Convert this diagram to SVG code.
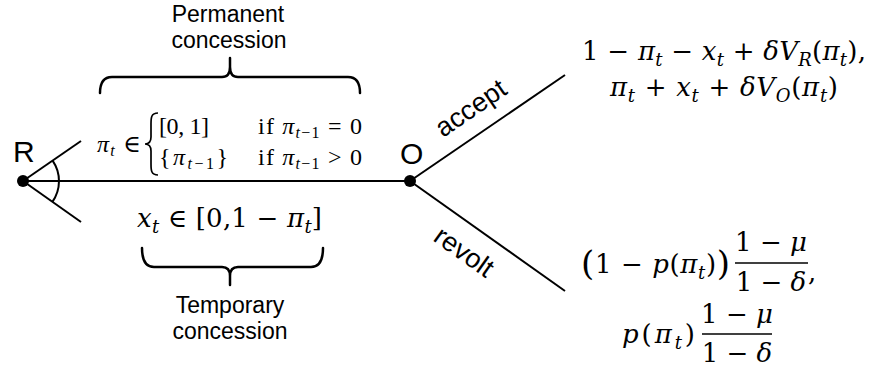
<svg xmlns="http://www.w3.org/2000/svg" width="872" height="370" viewBox="0 0 872 370">
<style>
.lbl{font-family:"Liberation Sans",Arial,sans-serif;fill:#000}
.big{font-size:30px}
.cap{font-size:23px;text-anchor:middle}
.edge{font-size:27px}
.m{font-family:"DejaVu Serif","Liberation Serif",serif;font-size:26px;fill:#000}
.cm{font-family:"Liberation Serif","DejaVu Serif",serif;font-size:24px;fill:#000}
.i{font-style:italic}
.s{font-size:18px}
.cs{font-size:16px}
.mid{text-anchor:middle}
.ln{stroke:#000;stroke-width:2;fill:none}
.bar{stroke:#000;stroke-width:1.5;fill:none}
.br{stroke:#000;stroke-width:2.5;fill:none;stroke-linejoin:round;stroke-linecap:round}
.pb{stroke:#000;stroke-width:1.7;fill:none}
</style>
<rect width="872" height="370" fill="#fff"/>

<g id="connectors" class="ln">
  <line x1="23" y1="181" x2="410" y2="181"/>
  <line x1="23" y1="181" x2="81" y2="141"/>
  <line x1="23" y1="181" x2="81" y2="222"/>
  <path d="M52.6,160.6 A36,36 0 0 1 52.4,201.8"/>
  <line x1="410" y1="181" x2="565" y2="75"/>
  <line x1="410" y1="181" x2="565" y2="291"/>
</g>

<g id="node-R">
  <circle cx="23" cy="181" r="6" fill="#000"/>
  <text class="lbl big" x="13" y="162">R</text>
</g>

<g id="node-O">
  <circle cx="410" cy="181" r="6" fill="#000"/>
  <text class="lbl big" x="400" y="164">O</text>
</g>

<g id="edge-labels">
  <text class="lbl edge" transform="translate(443,138) rotate(-34.4)">accept</text>
  <text class="lbl edge" transform="translate(432,240) rotate(35.4)">revolt</text>
</g>

<g id="permanent">
  <text class="lbl cap" x="228" y="22">Permanent</text>
  <text class="lbl cap" x="229" y="48">concession</text>
  <path class="br" d="M100,93 Q100,77 112,77 L222,77 Q230,77 230,67 L230,58 M230,67 Q230,77 238,77 L348,77 Q360,77 360,93"/>
  <text class="cm" x="97" y="152" textLength="44" lengthAdjust="spacing"><tspan class="i">π</tspan><tspan class="cs i" dy="4">t</tspan><tspan dy="-4"> ∈</tspan></text>
  <path class="pb" d="M158,113 C151,113 151,118 151,124 L151,137 C151,142 149,144 145,144 C149,144 151,146 151,151 L151,164 C151,170 151,175 158,175"/>
  <text class="cm" x="159" y="134" textLength="50" lengthAdjust="spacing">[0, 1]</text>
  <text class="cm" x="258" y="134" textLength="104" lengthAdjust="spacing">if <tspan class="i">π</tspan><tspan class="cs" dy="4"><tspan class="i">t</tspan>−1</tspan><tspan dy="-4"> = 0</tspan></text>
  <text class="cm" x="159" y="165" textLength="69" lengthAdjust="spacing">{<tspan class="i">π</tspan><tspan class="cs" dy="4"><tspan class="i">t</tspan>−1</tspan><tspan dy="-4">}</tspan></text>
  <text class="cm" x="258" y="165" textLength="104" lengthAdjust="spacing">if <tspan class="i">π</tspan><tspan class="cs" dy="4"><tspan class="i">t</tspan>−1</tspan><tspan dy="-4"> &gt; 0</tspan></text>
</g>

<g id="temporary">
  <text class="m" x="137" y="227" textLength="185" lengthAdjust="spacing"><tspan class="i">x</tspan><tspan class="s i" dy="6">t</tspan><tspan dy="-6"> ∈ [0,1 − </tspan><tspan class="i">π</tspan><tspan class="s i" dy="6">t</tspan><tspan dy="-6">]</tspan></text>
  <path class="br" d="M142,248 Q142,267 154,267 L222,267 Q230,267 230,276 L230,285 M230,276 Q230,267 238,267 L311,267 Q323,267 323,248"/>
  <text class="lbl cap" x="230" y="313">Temporary</text>
  <text class="lbl cap" x="230" y="339">concession</text>
</g>

<g id="payoff-accept">
  <text class="m" x="582" y="60" textLength="284" lengthAdjust="spacing">1 − <tspan class="i">π</tspan><tspan class="s i" dy="6">t</tspan><tspan dy="-6"> − </tspan><tspan class="i">x</tspan><tspan class="s i" dy="6">t</tspan><tspan dy="-6"> + </tspan><tspan class="i">δV</tspan><tspan class="s i" dy="6">R</tspan><tspan dy="-6">(</tspan><tspan class="i">π</tspan><tspan class="s i" dy="6">t</tspan><tspan dy="-6">),</tspan></text>
  <text class="m" x="610" y="96" textLength="228" lengthAdjust="spacing"><tspan class="i">π</tspan><tspan class="s i" dy="6">t</tspan><tspan dy="-6"> + </tspan><tspan class="i">x</tspan><tspan class="s i" dy="6">t</tspan><tspan dy="-6"> + </tspan><tspan class="i">δV</tspan><tspan class="s i" dy="6">O</tspan><tspan dy="-6">(</tspan><tspan class="i">π</tspan><tspan class="s i" dy="6">t</tspan><tspan dy="-6">)</tspan></text>
</g>

<g id="payoff-revolt">
  <text class="m" x="581" y="273" textLength="149" lengthAdjust="spacing"><tspan font-size="34" dy="2">(</tspan><tspan dy="-2">1 − </tspan><tspan class="i">p</tspan>(<tspan class="i">π</tspan><tspan class="s i" dy="6">t</tspan><tspan dy="-6">)</tspan><tspan font-size="34" dy="2">)</tspan></text>
  <text class="m mid" x="771" y="251">1 − <tspan class="i">μ</tspan></text>
  <line class="bar" x1="735" y1="263" x2="808" y2="263"/>
  <text class="m mid" x="771" y="291">1 − <tspan class="i">δ</tspan></text>
  <text class="m" x="808" y="281">,</text>
  <text class="m" x="622" y="343" textLength="73" lengthAdjust="spacing"><tspan class="i">p</tspan>(<tspan class="i">π</tspan><tspan class="s i" dy="6">t</tspan><tspan dy="-6">)</tspan></text>
  <text class="m mid" x="737" y="323">1 − <tspan class="i">μ</tspan></text>
  <line class="bar" x1="702" y1="334" x2="772" y2="334"/>
  <text class="m mid" x="737" y="362">1 − <tspan class="i">δ</tspan></text>
</g>
</svg>
